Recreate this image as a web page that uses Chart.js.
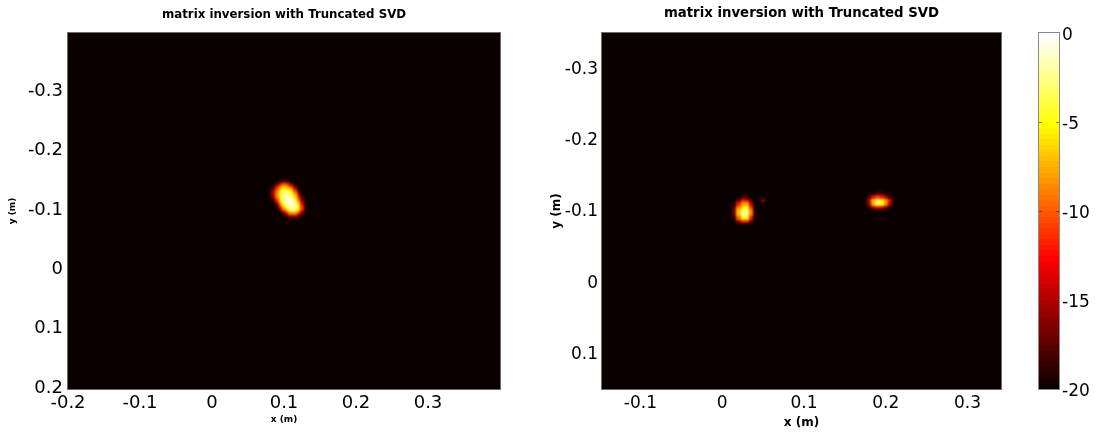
<!DOCTYPE html>
<html lang="en">
<head>
    <meta charset="UTF-8">
    <title>matrix inversion with Truncated SVD</title>
    <script src="https://cdn.jsdelivr.net/npm/chart.js"></script>
    <style>
        body {
            margin: 0;
            padding: 0;
            background: #fff;
            width: 1099px;
            height: 432px;
            overflow: hidden;
            position: relative;
        }
        .panel {
            position: absolute;
            top: 0;
            height: 432px;
        }
        #leftWrap { left: 0; width: 550px; }
        #rightWrap { left: 550px; width: 549px; }
    </style>
</head>
<body>

<div class="panel" id="leftWrap"><canvas id="leftChart"></canvas></div>
<div class="panel" id="rightWrap"><canvas id="rightChart"></canvas></div>

<script>
    // ---- data ----
    const titleText = 'matrix inversion with Truncated SVD';

    const leftXTicks = [-0.2, -0.1, 0, 0.1, 0.2, 0.3];
    const leftYTicks = [-0.3, -0.2, -0.1, 0, 0.1, 0.2];
    const rightXTicks = [-0.1, 0, 0.1, 0.2, 0.3];
    const rightYTicks = [-0.3, -0.2, -0.1, 0, 0.1];
    const colorbarTicks = [0, -5, -10, -15, -20];

    const floorDb = -20;      // everything not listed sits at the bottom of the scale
    const cellSize = 0.005;   // grid step (m)

    // left image: one source
    const leftBlobX = [0.080, 0.085, 0.090, 0.095, 0.100, 0.105, 0.110, 0.115, 0.120, 0.125, 0.130];
    const leftBlobY = [-0.150, -0.145, -0.140, -0.135, -0.130, -0.125, -0.120, -0.115, -0.110, -0.105, -0.100, -0.095, -0.090];
    const leftBlobDb = [
        [-20, -20, -20, -19, -17, -18, -20, -20, -20, -20, -20],
        [-20, -20, -17, -12, -10, -11, -15, -20, -20, -20, -20],
        [-20, -19, -12,  -8,  -6,  -7, -10, -16, -20, -20, -20],
        [-20, -16, -10,  -5,  -4,  -4,  -6, -11, -18, -20, -20],
        [-20, -15,  -9,  -4,  -3,  -2,  -4,  -8, -15, -20, -20],
        [-20, -16,  -9,  -4,  -2,  -1,  -2,  -6, -12, -18, -20],
        [-20, -18, -11,  -5,  -2,  -1,  -1,  -4, -10, -17, -20],
        [-20, -20, -14,  -7,  -3,  -1,  -1,  -2,  -7, -14, -20],
        [-20, -20, -18, -10,  -5,  -2,  -1,  -2,  -5, -12, -19],
        [-20, -20, -20, -14,  -8,  -4,  -2,  -2,  -5, -11, -19],
        [-20, -20, -20, -18, -12,  -7,  -4,  -4,  -7, -13, -20],
        [-20, -20, -20, -20, -17, -12,  -9,  -9, -12, -17, -20],
        [-20, -20, -20, -20, -20, -18, -16, -16, -18, -20, -20]
    ];

    // right image: two sources and a faint speck
    const rightBlob1X = [0.015, 0.020, 0.025, 0.030, 0.035, 0.040];
    const rightBlob1Y = [-0.120, -0.115, -0.110, -0.105, -0.100, -0.095, -0.090, -0.085];
    const rightBlob1Db = [
        [-20, -20, -18, -19, -20, -20],
        [-20, -17, -12, -13, -18, -20],
        [-20, -12,  -8,  -8, -14, -20],
        [-18,  -9,  -5,  -5, -11, -20],
        [-17,  -7,  -3,  -3,  -9, -19],
        [-17,  -7,  -2,  -2,  -9, -19],
        [-19, -10,  -5,  -5, -12, -20],
        [-20, -16, -12, -12, -17, -20]
    ];

    const rightBlob2X = [0.175, 0.180, 0.185, 0.190, 0.195, 0.200, 0.205, 0.210];
    const rightBlob2Y = [-0.125, -0.120, -0.115, -0.110, -0.105];
    const rightBlob2Db = [
        [-20, -20, -20, -19, -19, -20, -20, -20],
        [-20, -18, -13, -11, -12, -15, -19, -20],
        [-20, -15,  -7,  -3,  -4,  -8, -14, -20],
        [-20, -16,  -8,  -4,  -5,  -9, -15, -20],
        [-20, -19, -15, -13, -14, -17, -20, -20]
    ];

    const rightSpeckX = [0.050];
    const rightSpeckY = [-0.115];
    const rightSpeckDb = [[-16]];

    // ---- helpers ----
    const fontFamily = '"DejaVu Sans", Arial, sans-serif';

    // MATLAB "hot" colormap, 64 levels
    function hot(v) {
        const t = Math.min(1, Math.max(0, (v - floorDb) / (0 - floorDb)));
        const i = Math.round(t * 63) + 1;
        const r = Math.min(1, i / 24);
        const g = Math.min(1, Math.max(0, (i - 24) / 24));
        const b = Math.min(1, Math.max(0, (i - 48) / 16));
        return 'rgb(' + Math.round(r * 255) + ',' + Math.round(g * 255) + ',' + Math.round(b * 255) + ')';
    }

    function gridToCells(xs, ys, values) {
        let cells = [];
        ys.forEach((y, r) => {
            xs.forEach((x, c) => {
                if (values[r][c] > floorDb) cells.push({ x: x, y: y, v: values[r][c] });
            });
        });
        return cells;
    }

    function tickLabel(v) {
        if (Math.abs(v) < 1e-9) return '0';
        return v.toFixed(1);
    }

    // draws the image cells through the chart's x/y scales
    const heatmapPlugin = {
        id: 'heatmap',
        beforeDatasetsDraw(chart) {
            const ctx = chart.ctx;
            const a = chart.chartArea;
            const xs = chart.scales.x;
            const ys = chart.scales.y;

            // paint cells on a scratch canvas first, then blur it once
            const off = document.createElement('canvas');
            off.width = chart.width;
            off.height = chart.height;
            const octx = off.getContext('2d');
            octx.fillStyle = hot(floorDb);
            octx.fillRect(a.left - 3, a.top - 3, a.right - a.left + 6, a.bottom - a.top + 6);
            chart.data.datasets.forEach(ds => {
                ds.data.forEach(p => {
                    const x0 = Math.round(xs.getPixelForValue(p.x - cellSize / 2));
                    const x1 = Math.round(xs.getPixelForValue(p.x + cellSize / 2));
                    const y0 = Math.round(ys.getPixelForValue(p.y - cellSize / 2));
                    const y1 = Math.round(ys.getPixelForValue(p.y + cellSize / 2));
                    octx.fillStyle = hot(p.v);
                    octx.fillRect(Math.min(x0, x1), Math.min(y0, y1), Math.abs(x1 - x0), Math.abs(y1 - y0));
                });
            });

            ctx.save();
            ctx.beginPath();
            ctx.rect(a.left, a.top, a.right - a.left, a.bottom - a.top);
            ctx.clip();
            ctx.filter = 'blur(0.9px)';
            ctx.drawImage(off, 0, 0);
            ctx.filter = 'none';
            ctx.restore();

            // thin axes box
            ctx.save();
            ctx.strokeStyle = '#6b6b6b';
            ctx.lineWidth = 1;
            ctx.strokeRect(a.left - 0.5, a.top - 0.5, a.right - a.left + 1, a.bottom - a.top + 1);
            ctx.restore();
        }
    };

    // title centred over the plot area
    const panelTitlePlugin = {
        id: 'panelTitle',
        afterDraw(chart, args, opts) {
            const a = chart.chartArea;
            const ctx = chart.ctx;
            ctx.save();
            ctx.fillStyle = '#000';
            ctx.font = 'bold ' + opts.size + 'px ' + fontFamily;
            ctx.textAlign = 'center';
            ctx.textBaseline = 'middle';
            ctx.fillText(opts.text, (a.left + a.right) / 2, opts.y);
            ctx.restore();
        }
    };

    // colour bar drawn against the 'cb' scale
    const colorbarPlugin = {
        id: 'colorbar',
        afterDraw(chart) {
            const cb = chart.scales.cb;
            if (!cb) return;
            const ctx = chart.ctx;
            const left = cb.left + 38;
            const width = 20;
            const levels = 64;
            ctx.save();
            for (let k = 0; k < levels; k++) {
                const lo = floorDb + (k / levels) * (0 - floorDb);
                const hi = floorDb + ((k + 1) / levels) * (0 - floorDb);
                const yTop = cb.getPixelForValue(hi);
                const yBot = cb.getPixelForValue(lo);
                ctx.fillStyle = hot((lo + hi) / 2);
                ctx.fillRect(left, Math.floor(yTop), width, Math.ceil(yBot) - Math.floor(yTop));
            }
            ctx.strokeStyle = '#8a8a8a';
            ctx.lineWidth = 1;
            const top = cb.getPixelForValue(0);
            const bottom = cb.getPixelForValue(floorDb);
            ctx.strokeRect(left - 0.5, top - 0.5, width + 1, bottom - top + 1);
            // little tick marks on both inner edges
            ctx.strokeStyle = 'rgba(60,40,0,0.6)';
            colorbarTicks.forEach(v => {
                if (v === 0 || v === floorDb) return;
                const yy = Math.round(cb.getPixelForValue(v)) + 0.5;
                ctx.beginPath();
                ctx.moveTo(left, yy); ctx.lineTo(left + 3, yy);
                ctx.moveTo(left + width - 3, yy); ctx.lineTo(left + width, yy);
                ctx.stroke();
            });
            ctx.restore();
        }
    };

    function makeAxis(cfg) {
        return {
            type: 'linear',
            position: cfg.position,
            min: cfg.min,
            max: cfg.max,
            reverse: !!cfg.reverse,
            afterFit: s => {
                if (cfg.position === 'bottom') s.height = cfg.size;
                else s.width = cfg.size;
                // keep the plot area where the reference has it
                s.paddingTop = 0;
                s.paddingBottom = 0;
                s.paddingLeft = 0;
                s.paddingRight = 0;
            },
            afterBuildTicks: s => { s.ticks = cfg.ticks.map(v => ({ value: v })); },
            grid: { display: false, drawTicks: false },
            border: { display: false },
            ticks: {
                autoSkip: false,
                maxRotation: 0,
                padding: cfg.tickPadding,
                labelOffset: cfg.labelOffset || 0,
                color: '#000',
                font: { family: fontFamily, size: cfg.tickSize },
                callback: cfg.format || (v => tickLabel(v))
            },
            title: cfg.title ? {
                display: true,
                text: cfg.title,
                color: '#000',
                font: { family: fontFamily, size: cfg.titleSize, weight: 'bold' },
                padding: cfg.titlePadding
            } : { display: false }
        };
    }

    // ---- left panel ----
    new Chart(document.getElementById('leftChart'), {
        type: 'scatter',
        data: {
            datasets: [{
                label: 'left',
                data: gridToCells(leftBlobX, leftBlobY, leftBlobDb),
                pointRadius: 0
            }]
        },
        options: {
            responsive: true,
            maintainAspectRatio: false,
            animation: false,
            layout: { padding: { left: 0, right: 50, top: 33, bottom: 0 } },
            plugins: {
                legend: { display: false },
                tooltip: { enabled: false },
                panelTitle: { text: titleText, size: 11.8, y: 15 }
            },
            scales: {
                x: makeAxis({ position: 'bottom', min: -0.2, max: 0.4, ticks: leftXTicks, size: 43,
                    tickPadding: 4, tickSize: 18, title: 'x (m)', titleSize: 9, titlePadding: { top: 0, bottom: 6.6 } }),
                y: makeAxis({ position: 'left', min: -0.4, max: 0.2, reverse: true, ticks: leftYTicks, size: 68,
                    tickPadding: 5, tickSize: 18, labelOffset: -1, title: 'y (m)', titleSize: 9, titlePadding: { top: 7.6, bottom: 0 } })
            }
        },
        plugins: [heatmapPlugin, panelTitlePlugin]
    });

    // ---- right panel with colour bar ----
    new Chart(document.getElementById('rightChart'), {
        type: 'scatter',
        data: {
            datasets: [
                { label: 'source 1', data: gridToCells(rightBlob1X, rightBlob1Y, rightBlob1Db), pointRadius: 0 },
                { label: 'source 2', data: gridToCells(rightBlob2X, rightBlob2Y, rightBlob2Db), pointRadius: 0 },
                { label: 'speck', data: gridToCells(rightSpeckX, rightSpeckY, rightSpeckDb), pointRadius: 0 }
            ]
        },
        options: {
            responsive: true,
            maintainAspectRatio: false,
            animation: false,
            layout: { padding: { left: 0, right: 0, top: 33, bottom: 0 } },
            plugins: {
                legend: { display: false },
                tooltip: { enabled: false },
                panelTitle: { text: titleText, size: 13.3, y: 14 }
            },
            scales: {
                x: makeAxis({ position: 'bottom', min: -0.147, max: 0.341, ticks: rightXTicks, size: 43,
                    tickPadding: 4, tickSize: 17, title: 'x (m)', titleSize: 12, titlePadding: { top: 0, bottom: 2 } }),
                y: makeAxis({ position: 'left', min: -0.35, max: 0.15, reverse: true, ticks: rightYTicks, size: 52,
                    tickPadding: 4, tickSize: 17, labelOffset: 1, title: 'y (m)', titleSize: 12, titlePadding: { top: 0, bottom: 0 } }),
                cb: makeAxis({ position: 'right', min: floorDb, max: 0, ticks: colorbarTicks, size: 98,
                    tickPadding: 61, tickSize: 17, labelOffset: 3, format: v => String(v) })
            }
        },
        plugins: [heatmapPlugin, panelTitlePlugin, colorbarPlugin]
    });
</script>

</body>
</html>
